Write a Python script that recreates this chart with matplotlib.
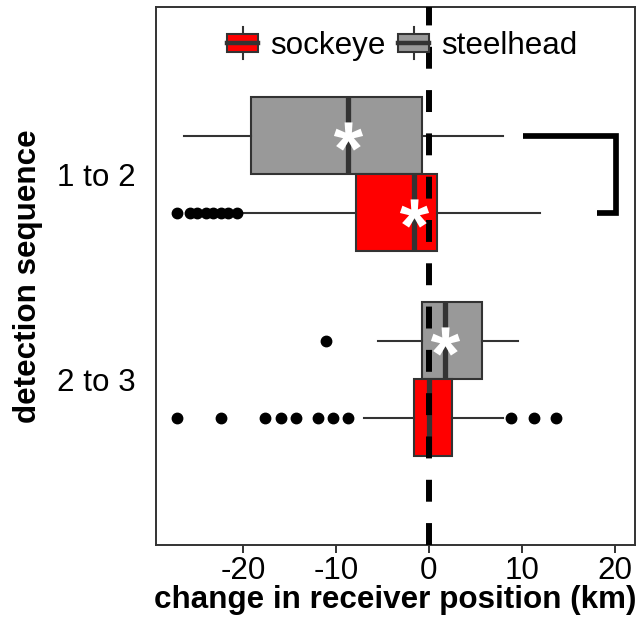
import numpy as np
import matplotlib
matplotlib.use("Agg")
import matplotlib.pyplot as plt
from matplotlib.patches import Patch, Rectangle
from matplotlib.lines import Line2D
from matplotlib.legend_handler import HandlerBase
from matplotlib.textpath import TextPath
from matplotlib.font_manager import FontProperties
from matplotlib.path import Path

plt.rcParams['font.family'] = ['Liberation Sans', 'DejaVu Sans']

groups = ["1 to 2", "2 to 3"]
species = ["sockeye", "steelhead"]
colors = {"sockeye": "#ff0000", "steelhead": "#999999"}

# box stats per group (km)
steel_q1 = [-19.1, -0.7]
steel_med = [-8.7, 1.7]
steel_q3 = [-0.7, 5.7]
steel_lo = [-26.3, -5.5]
steel_hi = [8.0, 9.6]
steel_out = [[], [-11.1]]
steel_star = [True, True]

sock_q1 = [-7.8, -1.6]
sock_med = [-1.6, 0.0]
sock_q3 = [0.9, 2.5]
sock_lo = [-19.9, -7.0]
sock_hi = [12.0, 8.0]
sock_out = [[-27.1, -25.7, -24.9, -24.0, -23.2, -22.4, -21.6, -20.7],
            [-27.1, -22.4, -17.6, -15.9, -14.3, -11.9, -10.3, -8.7, 8.9, 11.3, 13.7]]
sock_star = [True, False]

xticks = [-20, -10, 0, 10, 20]

FS = 22.6
DARK = "#333333"

fig = plt.figure(figsize=(6.42, 6.22), dpi=100)
ax = fig.add_axes([0.2425, 0.1238, 0.7466, 0.8645])

def make_stats(q1, med, q3, lo, hi, out):
    return [dict(q1=q1[i], med=med[i], q3=q3[i], whislo=lo[i], whishi=hi[i], fliers=out[i])
            for i in range(len(groups))]

pos = np.arange(len(groups))
w = 0.375
series = [
    ("steelhead", make_stats(steel_q1, steel_med, steel_q3, steel_lo, steel_hi, steel_out), -w / 2, steel_star, steel_med),
    ("sockeye", make_stats(sock_q1, sock_med, sock_q3, sock_lo, sock_hi, sock_out), w / 2, sock_star, sock_med),
]

# asterisk marker built from a bold glyph, centred on its own bbox
tp = TextPath((0, 0), "*", size=10, prop=FontProperties(family="Liberation Sans", weight="bold"))
ext = tp.get_extents()
ctr = np.array([(ext.x0 + ext.x1) / 2, (ext.y0 + ext.y1) / 2])
verts = tp.vertices - ctr
verts[tp.codes == Path.CLOSEPOLY] = 0
star = Path(verts, tp.codes)

for name, stats, off, stars, meds in series:
    ax.bxp(stats, positions=pos + off, widths=w, orientation="horizontal",
           showcaps=False, patch_artist=True,
           boxprops=dict(facecolor=colors[name], edgecolor=DARK, linewidth=1.5),
           whiskerprops=dict(color=DARK, linewidth=1.5),
           medianprops=dict(color=DARK, linewidth=3.8),
           flierprops=dict(marker="o", markerfacecolor="black", markeredgecolor="black",
                           markersize=7.5, linestyle="none"))

ax.axvline(0, color="black", linewidth=4.3, linestyle=(0, (3.67, 3.58)), zorder=5)

for name, stats, off, stars, meds in series:
    for i in range(len(groups)):
        if stars[i]:
            ax.plot(meds[i], pos[i] + off, marker=star, markersize=21, color="white",
                    markeredgewidth=0, linestyle="none", zorder=6)

# significance bracket between the two species in "1 to 2"
ax.plot([10.1, 20.2, 20.2, 18.1], [-w / 2, -w / 2, w / 2, w / 2], color="black",
        linewidth=4.1, solid_joinstyle="miter", solid_capstyle="butt", zorder=5)

ax.set_xlim(-29.4, 22.2)
ax.set_ylim(1.808, -0.814)
ax.set_xticks(xticks)
ax.set_xticklabels([str(t) for t in xticks])
ax.set_yticks(pos)
ax.set_yticklabels(groups)
ax.tick_params(axis="x", length=5.8, width=1.4, color=DARK, labelsize=FS, pad=2)
ax.tick_params(axis="y", length=0, labelsize=FS, pad=14.5)
for s in ax.spines.values():
    s.set_color(DARK)
    s.set_linewidth(1.4)

ax.set_xlabel("change in receiver position (km)", fontsize=FS, fontweight="bold")
ax.xaxis.label.set_va("baseline")
ax.xaxis.set_label_coords(0.5, -0.117)
ax.set_ylabel("detection sequence", fontsize=FS, fontweight="bold")
ax.yaxis.label.set_va("center")
ax.yaxis.set_label_coords(-0.266, 0.5)


class BoxHandler(HandlerBase):
    def create_artists(self, legend, orig_handle, xdescent, ydescent, width, height, fontsize, trans):
        cx = -xdescent + width / 2
        cy = -ydescent + height / 2
        bh = 13
        stub = Line2D([cx, cx], [cy - 11.4, cy + 11.4], color=DARK, linewidth=1.5, transform=trans)
        box = Rectangle((-xdescent, cy - bh / 2), width, bh, facecolor=orig_handle.get_facecolor(),
                        edgecolor=DARK, linewidth=1.5, transform=trans)
        med = Line2D([-xdescent, -xdescent + width], [cy, cy], color=DARK, linewidth=3.2, transform=trans)
        return [stub, box, med]


handles = [Patch(facecolor=colors[s]) for s in species]
ax.legend(handles, species, handler_map={Patch: BoxHandler()}, loc="center",
          bbox_to_anchor=(0.514, 0.93), ncol=2, frameon=False, fontsize=FS,
          handlelength=0.99, handleheight=1.0, handletextpad=0.37, columnspacing=0.41,
          borderpad=0, borderaxespad=0)

fig.savefig("out.png", dpi=100)
